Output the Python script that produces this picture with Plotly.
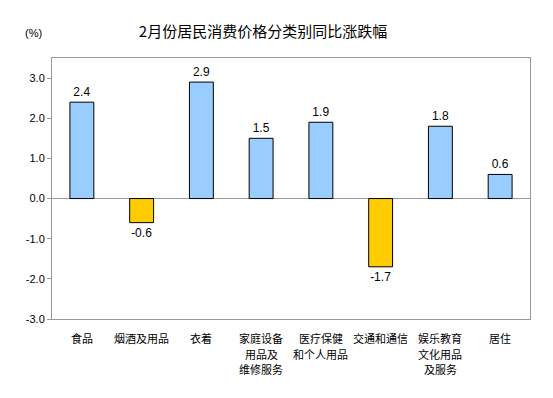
import plotly.graph_objects as go

categories = ["食品", "烟酒及用品", "衣着", "家庭设备<br>用品及<br>维修服务", "医疗保健<br>和个人用品",
              "交通和通信", "娱乐教育<br>文化用品<br>及服务", "居住"]
values = [2.4, -0.6, 2.9, 1.5, 1.9, -1.7, 1.8, 0.6]
y_ticks = [-3.0, -2.0, -1.0, 0.0, 1.0, 2.0, 3.0]
y_tick_labels = ["-3.0", "-2.0", "-1.0", "0.0", "1.0", "2.0", "3.0"]
title = "2月份居民消费价格分类别同比涨跌幅"

colors = ["#99CCFF" if v >= 0 else "#FFCC00" for v in values]
x_idx = list(range(len(categories)))

fig = go.Figure(go.Bar(
    x=x_idx, y=values,
    marker=dict(color=colors, line=dict(color="black", width=1)),
    width=0.4,
    text=[f"{v:.1f}" for v in values],
    textposition="outside",
    cliponaxis=False,
    textfont=dict(family="Liberation Sans, Arial", size=12, color="black"),
))

PLOT_H = 261  # plot area height in px
annotations = [dict(text="(%)", x=(33 - 52) / 478, y=1 + 25 / PLOT_H, xref="paper", yref="paper",
                    showarrow=False, xanchor="center", yanchor="middle",
                    font=dict(family="Liberation Sans, Arial", size=11, color="black"))]
# category labels, one annotation per line so lines don't overlap
for i, cat in enumerate(categories):
    for j, line in enumerate(cat.split("<br>")):
        annotations.append(dict(
            text=line, x=x_idx[i], xref="x", y=-(19 + 15.5 * j) / PLOT_H, yref="paper",
            showarrow=False, xanchor="center", yanchor="middle", borderpad=0,
            font=dict(family="Noto Sans CJK SC", size=11, color="black")))

# page body has an 8px margin; compensate so the plot lands where the reference has it
fig.update_layout(
    width=553, height=398,
    margin=dict(l=44, r=31, t=50, b=87, autoexpand=False),
    paper_bgcolor="white", plot_bgcolor="white",
    showlegend=False,
    title=dict(text=title, x=(263 - 8) / 553, xanchor="center", y=1 - 24 / 398, yanchor="middle",
               font=dict(family="Noto Sans CJK SC", size=15, color="black")),
    annotations=annotations,
)

fig.update_xaxes(
    tickvals=x_idx, showticklabels=False, range=[-0.5, len(categories) - 0.5],
    showline=True, linecolor="#999999", linewidth=1, mirror=True,
    ticks="", showgrid=False, zeroline=False, automargin=False,
)
fig.update_yaxes(
    tickvals=y_ticks, ticktext=y_tick_labels, range=[-3.0, 3.5],
    showline=True, linecolor="#999999", linewidth=1, mirror=True,
    ticks="outside", ticklen=4, tickcolor="#999999", automargin=False,
    showgrid=False, zeroline=True, zerolinecolor="#999999", zerolinewidth=1,
    tickfont=dict(family="Liberation Sans, Arial", size=11, color="black"),
)

fig.write_html("out.html")
